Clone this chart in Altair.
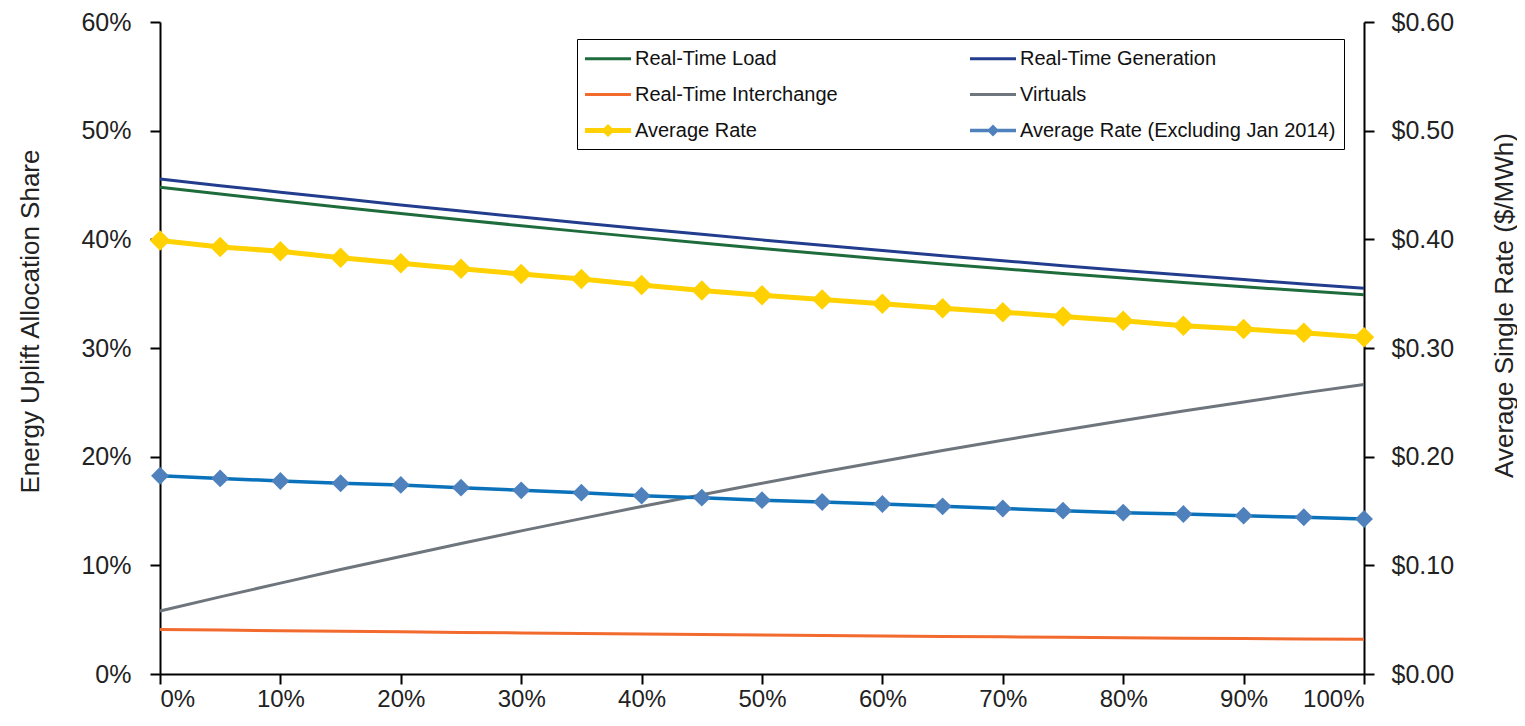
import altair as alt
import pandas as pd

X_PCT = [0, 5, 10, 15, 20, 25, 30, 35, 40, 45, 50, 55, 60, 65, 70, 75, 80, 85, 90, 95, 100]
X_TICKS = [0, 10, 20, 30, 40, 50, 60, 70, 80, 90, 100]
Y_LEFT_TICKS = [0, 10, 20, 30, 40, 50, 60]
Y_RIGHT_TICKS = [0.0, 0.1, 0.2, 0.3, 0.4, 0.5, 0.6]

LOAD = [44.80, 44.17, 43.56, 42.96, 42.38, 41.81, 41.25, 40.71, 40.18, 39.66, 39.16,
        38.67, 38.20, 37.74, 37.29, 36.86, 36.44, 36.03, 35.64, 35.26, 34.90]
GEN = [45.55, 44.94, 44.34, 43.75, 43.17, 42.60, 42.05, 41.51, 40.98, 40.46, 39.95,
       39.45, 38.97, 38.49, 38.03, 37.58, 37.14, 36.71, 36.30, 35.89, 35.50]
INTER = [4.10, 4.04, 3.99, 3.93, 3.88, 3.83, 3.78, 3.73, 3.68, 3.63, 3.59,
         3.54, 3.50, 3.46, 3.42, 3.38, 3.34, 3.30, 3.27, 3.23, 3.20]
VIRT = [5.80, 7.10, 8.36, 9.61, 10.82, 12.01, 13.17, 14.30, 15.41, 16.50, 17.55,
        18.59, 19.58, 20.56, 21.51, 22.43, 23.33, 24.21, 25.04, 25.87, 26.65]
AVG = [0.399, 0.393, 0.389, 0.383, 0.378, 0.373, 0.368, 0.3635, 0.358, 0.353, 0.3485,
       0.3447, 0.3407, 0.3365, 0.333, 0.329, 0.325, 0.3205, 0.3175, 0.314, 0.310]
AVGX = [0.1825, 0.180, 0.1776, 0.1755, 0.174, 0.1715, 0.169, 0.1669, 0.1641, 0.1623, 0.160,
        0.1583, 0.1564, 0.1543, 0.1523, 0.1503, 0.1485, 0.1472, 0.1457, 0.1442, 0.1426]

SHARE_NAMES = ["Real-Time Load", "Real-Time Generation", "Real-Time Interchange", "Virtuals"]
SHARE_COLORS = ["#1E6B3C", "#223C8E", "#F26A2E", "#6E757C"]

# legend entries listed column by column (left column first)
LEGEND_ORDER = ["Real-Time Load", "Real-Time Interchange", "Average Rate",
                "Real-Time Generation", "Virtuals", "Average Rate (Excluding Jan 2014)"]
LEGEND_COLORS = ["#1E6B3C", "#F26A2E", "#FFD100", "#223C8E", "#6E757C", "#4F81BD"]

LINE_PATH = "M-1,-0.13L3,-0.13L3,0.13L-1,0.13Z"
YEL_PATH = "M-1,-0.22L3,-0.22L3,0.22L-1,0.22Z M0.43,0L1,-0.57L1.57,0L1,0.57Z"
BLU_PATH = "M-1,-0.15L3,-0.15L3,0.15L-1,0.15Z M0.48,0L1,-0.52L1.52,0L1,0.52Z"
LEGEND_SHAPES = [LINE_PATH, LINE_PATH, YEL_PATH, LINE_PATH, LINE_PATH, BLU_PATH]

FONT = "Liberation Sans, Arial, sans-serif"

shares = pd.DataFrame([
    {"x": x, "series": n, "v": v}
    for n, vals in zip(SHARE_NAMES, [LOAD, GEN, INTER, VIRT])
    for x, v in zip(X_PCT, vals)
])
rates = pd.DataFrame({"x": X_PCT, "avg": AVG, "avgx": AVGX})
legend_df = pd.DataFrame({"series": LEGEND_ORDER})

x_enc = alt.X("x:Q", scale=alt.Scale(domain=[0, 100], nice=False),
              axis=alt.Axis(values=X_TICKS, labelExpr="datum.value + '%'", title=None,
                            labelPadding=3, labelFontSize=24))

left_axis = alt.Axis(values=Y_LEFT_TICKS, labelExpr="datum.value + '%'",
                     title="Energy Uplift Allocation Share", labelPadding=19,
                     titleAngle=270, titleX=-122, titleY=299, titleAlign="center",
                     titleBaseline="alphabetic")
right_axis = alt.Axis(values=Y_RIGHT_TICKS, format="$.2f", orient="right",
                      title="Average Single Rate ($/MWh)", labelPadding=17,
                      titleAngle=270, titleX=148, titleY=283, titleAlign="center",
                      titleBaseline="alphabetic")
left_scale = alt.Scale(domain=[0, 60], nice=False)
right_scale = alt.Scale(domain=[0, 0.6], nice=False)

share_lines = alt.Chart(shares).mark_line(strokeWidth=3).encode(
    x=x_enc,
    y=alt.Y("v:Q", scale=left_scale, axis=left_axis),
    color=alt.Color("series:N", scale=alt.Scale(domain=SHARE_NAMES, range=SHARE_COLORS), legend=None),
)

legend_layer = alt.Chart(legend_df).mark_point(filled=True, clip=True, opacity=1).encode(
    x=alt.value(-500),
    y=alt.value(-500),
    fill=alt.Fill("series:N", scale=alt.Scale(domain=LEGEND_ORDER, range=LEGEND_COLORS),
                  legend=alt.Legend(
                      title=None, orient="none", legendX=417, legendY=17, columns=2,
                      labelFont=FONT, labelFontSize=20, labelColor="#111111",
                      strokeColor="#000000", fillColor="#ffffff", padding=8,
                      columnPadding=132, rowPadding=14, symbolSize=529, labelOffset=27,
                      symbolStrokeWidth=0, symbolOpacity=1, labelLimit=400)),
    shape=alt.Shape("series:N", scale=alt.Scale(domain=LEGEND_ORDER, range=LEGEND_SHAPES)),
)

left_group = alt.layer(share_lines, legend_layer)


def ry(field):
    return alt.Y(field + ":Q", scale=right_scale, axis=right_axis,
                 title="Average Single Rate ($/MWh)")


base_r = alt.Chart(rates)
avg_line = base_r.mark_line(color="#FFD100", strokeWidth=5).encode(x=x_enc, y=ry("avg"))
avg_pts = base_r.mark_point(shape="diamond", filled=True, size=420, color="#FFD100", opacity=1).encode(
    x=x_enc, y=ry("avg"))
avgx_line = base_r.mark_line(color="#0A72BA", strokeWidth=3.5).encode(x=x_enc, y=ry("avgx"))
avgx_pts = base_r.mark_point(shape="diamond", filled=True, size=320, color="#4F81BD", opacity=1).encode(
    x=x_enc, y=ry("avgx"))

right_group = alt.layer(avg_line, avg_pts, avgx_line, avgx_pts)

chart = alt.layer(left_group, right_group).resolve_scale(y="independent").properties(
    width=1204, height=652,
    autosize=alt.AutoSizeParams(type="none"),
    padding={"left": 152, "top": 14, "right": 153, "bottom": 38},
).configure_view(stroke=None).configure_axis(
    domainColor="#000000", domainWidth=2, tickColor="#000000", tickWidth=2, tickSize=10,
    labelFont=FONT, labelFontSize=25, labelColor="#222222", grid=False,
    titleFont=FONT, titleFontSize=26, titleFontWeight="normal", titleColor="#222222",
)

chart.save("out.html", embed_options={"renderer": "svg", "actions": False})
